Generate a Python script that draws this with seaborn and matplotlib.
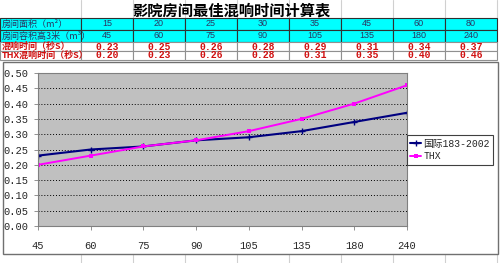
import matplotlib
matplotlib.use("Agg")
import matplotlib.pyplot as plt
from matplotlib.transforms import Affine2D
from matplotlib.patches import Rectangle
from matplotlib.lines import Line2D
import seaborn as sns
import pandas as pd

# ---- data ----
title = "影院房间最佳混响时间计算表"
row_labels = ["房间面积（m²）", "房间容积高3米（m³）", "混响时间（秒S）", "THX混响时间（秒S）"]
room_area = [15, 20, 25, 30, 35, 45, 60, 80]
room_volume = [45, 60, 75, 90, 105, 135, 180, 240]
rt_standard = [0.23, 0.25, 0.26, 0.28, 0.29, 0.31, 0.34, 0.37]
rt_thx = [0.20, 0.23, 0.26, 0.28, 0.31, 0.35, 0.40, 0.46]
series_names = ["国际183-2002", "THX"]
y_ticks = [0.00, 0.05, 0.10, 0.15, 0.20, 0.25, 0.30, 0.35, 0.40, 0.45, 0.50]

sns.set_style("white")
plt.rcParams['font.family'] = ['Noto Sans CJK SC', 'DejaVu Sans']
NUM = ['Liberation Mono', 'Noto Sans CJK SC']

W, H = 500, 263
fig = plt.figure(figsize=(W / 100, H / 100), dpi=100)
fig.patch.set_facecolor('white')
pix = Affine2D().scale(1 / W, -1 / H).translate(0, 1) + fig.transFigure

# ---- spreadsheet table ----
label_w = 81
col_w = 52
ncol = len(room_area)
col_edges = [0, label_w] + [label_w + col_w * (i + 1) for i in range(ncol)]
row_edges = [0, 18, 30, 42, 51, 60]

def rect(x0, y0, x1, y1, fc, ec, lw=0.8, z=1):
    fig.patches.append(Rectangle((x0, y0), x1 - x0, y1 - y0, transform=pix,
                                 facecolor=fc, edgecolor=ec, linewidth=lw, zorder=z))

def vline(x, y0, y1, c, lw=0.8):
    fig.add_artist(Line2D([x, x], [y0, y1], transform=pix, color=c, linewidth=lw, zorder=-2))

# light spreadsheet gridlines in title row and bottom strip
for x in col_edges[1:]:
    vline(x, 0, row_edges[1], '#d0d0d0')
    vline(x, 254, H, '#d0d0d0')

fig.text(231, 10, title, transform=pix, ha='center', va='center',
         fontsize=11, fontweight='bold', color='black')

rows_vals = [room_area, room_volume,
             [f"{v:.2f}" for v in rt_standard], [f"{v:.2f}" for v in rt_thx]]
for r in range(4):
    y0, y1 = row_edges[r + 1], row_edges[r + 2]
    cyan = r < 2
    fc = '#00ffff' if cyan else 'white'
    ec = '#303030' if cyan else '#909090'
    for c in range(len(col_edges) - 1):
        rect(col_edges[c], y0, col_edges[c + 1], y1, fc, ec)
    yc = (y0 + y1) / 2
    if cyan:
        fig.text(2, yc, row_labels[r], transform=pix, ha='left', va='center',
                 fontsize=6.5, color='#2a3560')
    else:
        fig.text(2, yc, row_labels[r], transform=pix, ha='left', va='center',
                 fontsize=6.5, color='#d01010', fontweight='bold')
    for c, v in enumerate(rows_vals[r]):
        xc = (col_edges[c + 1] + col_edges[c + 2]) / 2
        if cyan:
            fig.text(xc, yc, str(v), transform=pix, ha='center', va='center',
                     fontsize=6.5, color='#2a3560', family=['Liberation Sans'])
        else:
            fig.text(xc, yc, str(v), transform=pix, ha='center', va='center',
                     fontsize=7, color='#d01010', fontweight='bold', family=NUM)

# chart frame (below the axes)
rect(3, 62, 498, 254, 'white', '#707070', lw=1.0, z=-1)

# ---- chart ----
ax = fig.add_axes([38 / W, 1 - 226 / H, (407 - 38) / W, (226 - 73) / H])
ax.set_facecolor('#c0c0c0')
pos = list(range(len(room_volume)))
df = pd.DataFrame({'pos': pos, 'std': rt_standard, 'thx': rt_thx})
sns.lineplot(data=df, x='pos', y='std', ax=ax, color='#000080', linewidth=1.5,
             marker='+', markersize=4, markeredgewidth=1.0,
             markeredgecolor='#000080', label=series_names[0])
sns.lineplot(data=df, x='pos', y='thx', ax=ax, color='#ff00ff', linewidth=1.4,
             marker='s', markersize=3.5, markeredgewidth=0, label=series_names[1])
ax.set_xlim(0, len(pos) - 1)
ax.set_ylim(0, 0.5)
ax.set_xticks(pos)
ax.set_xticklabels([str(v) for v in room_volume], family=NUM, fontsize=7.5)
ax.set_yticks(y_ticks)
ax.set_yticklabels([f"{v:.2f}" for v in y_ticks], family=NUM, fontsize=7.5)
ax.set_xlabel('')
ax.set_ylabel('')
for y in y_ticks[1:-1]:
    ax.axhline(y, color='black', linestyle=(0, (1, 2)), linewidth=0.7, zorder=0.5)
for s in ax.spines.values():
    s.set_color('#808080')
    s.set_linewidth(0.8)
ax.tick_params(axis='both', length=3, width=0.6, color='#808080', pad=4,
               direction='out', bottom=True, left=True)
ax.tick_params(axis='x', pad=8)

leg = ax.legend(loc='center left', bbox_to_anchor=(407 / W, 1 - 150 / H),
                bbox_transform=fig.transFigure, borderaxespad=0, frameon=True,
                fancybox=False, edgecolor='#404040', framealpha=1,
                handlelength=1.1, handletextpad=0.25, borderpad=0.35,
                labelspacing=0.3, prop={'family': NUM, 'size': 7})
leg.get_frame().set_linewidth(0.8)

fig.savefig('out.png', dpi=100)
